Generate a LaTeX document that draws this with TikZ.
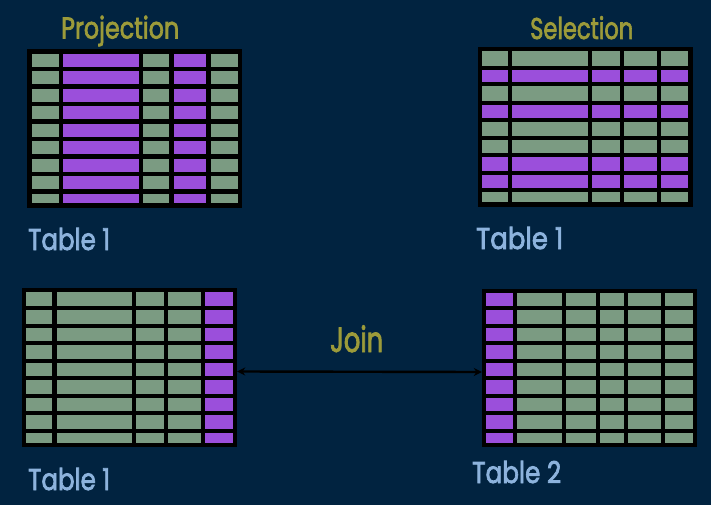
\documentclass[tikz,border=0pt]{standalone}
\usepackage{fontspec}
\setmainfont{Poppins}
\newfontfamily\heavyfont{Poppins}[FakeBold=2.6]
\usetikzlibrary{arrows.meta}
\definecolor{bgnavy}{RGB}{1,35,64}
\definecolor{cellgreen}{RGB}{123,155,130}
\definecolor{cellpurple}{RGB}{155,79,219}
\definecolor{olivetext}{RGB}{156,155,58}
\definecolor{bluetext}{RGB}{141,179,221}
\begin{document}
\begin{tikzpicture}[x=1pt,y=-1pt,
  tablebox/.style={fill=black,draw=none,inner sep=0pt,minimum width=215pt},
  greencell/.style={fill=cellgreen},
  purplecell/.style={fill=cellpurple},
  titletext/.style={text=olivetext,inner sep=0pt,anchor=base west,font=\heavyfont\fontsize{30}{30}\selectfont},
  labeltext/.style={text=bluetext,inner sep=0pt,anchor=base west,font=\heavyfont\fontsize{30}{30}\selectfont},
  joinarrow/.style={{Stealth[length=8pt,width=8pt]}-{Stealth[length=8pt,width=8pt]},line width=2.4pt,black}]
\fill[bgnavy] (0,0) rectangle (711,505);
\useasboundingbox (0,0) rectangle (711,505);

% ---- Projection table (top left)
\node[tablebox,minimum height=159pt] (tl) at (134.5,128.5) {};
\foreach \ya/\yb in {54/67,71/84,89/102,106/119,124/137,141/154,159/172,176/189,194/203}{
  \foreach \xa/\xb in {32/59,143/169,211/238}{\fill[greencell] (\xa,\ya) rectangle (\xb,\yb);}
  \foreach \xa/\xb in {63/139,174/206}{\fill[purplecell] (\xa,\ya) rectangle (\xb,\yb);}
}

% ---- Selection table (top right)
\node[tablebox,minimum height=160pt] (tr) at (585.5,127) {};
\foreach \ya/\yb in {51/66,86/101,122/136,140/153,192/202}{
  \foreach \xa/\xb in {482/508,512/588,592/620,624/657,661/688}{\fill[greencell] (\xa,\ya) rectangle (\xb,\yb);}
}
\foreach \ya/\yb in {70/82,105/118,157/171,175/188}{
  \foreach \xa/\xb in {482/508,512/588,592/620,624/657,661/688}{\fill[purplecell] (\xa,\ya) rectangle (\xb,\yb);}
}

% ---- Join table 1 (bottom left)
\node[tablebox,minimum height=159pt] (bl) at (129.5,367.5) {};
\foreach \ya/\yb in {292/306,310/324,328/341,345/359,363/376,380/394,398/411,415/429,433/443}{
  \foreach \xa/\xb in {26/52,57/132,136/164,168/201}{\fill[greencell] (\xa,\ya) rectangle (\xb,\yb);}
  \fill[purplecell] (205,\ya) rectangle (233,\yb);
}

% ---- Join table 2 (bottom right)
\node[tablebox,minimum height=158pt] (br) at (589.5,368) {};
\foreach \ya/\yb in {293/306,310/324,328/341,345/359,363/376,380/394,398/411,415/429,433/443}{
  \fill[purplecell] (486,\ya) rectangle (513,\yb);
  \foreach \xa/\xb in {517/562,566/596,600/624,628/661,665/693}{\fill[greencell] (\xa,\ya) rectangle (\xb,\yb);}
}

% ---- join connector
\draw[joinarrow] ([yshift=-4pt]bl.east) -- ([yshift=-4pt]br.west);

% ---- texts
\node[titletext] (projection) at (61,38.5) {\resizebox{118pt}{\height}{Projection}};
\node[titletext] (selection) at (530,39) {\resizebox{103pt}{\height}{Selection}};
\node[titletext,font=\heavyfont\fontsize{35}{35}\selectfont] (join) at (330,352) {\resizebox{53pt}{\height}{Join}};
\node[labeltext] (tllabel) at (28,250) {\resizebox{82pt}{\height}{Table 1}};
\node[labeltext] (trlabel) at (476,249) {\resizebox{87pt}{\height}{Table 1}};
\node[labeltext] (bllabel) at (28,490) {\resizebox{82pt}{\height}{Table 1}};
\node[labeltext] (brlabel) at (472,483) {\resizebox{89pt}{\height}{Table 2}};
\end{tikzpicture}
\end{document}
